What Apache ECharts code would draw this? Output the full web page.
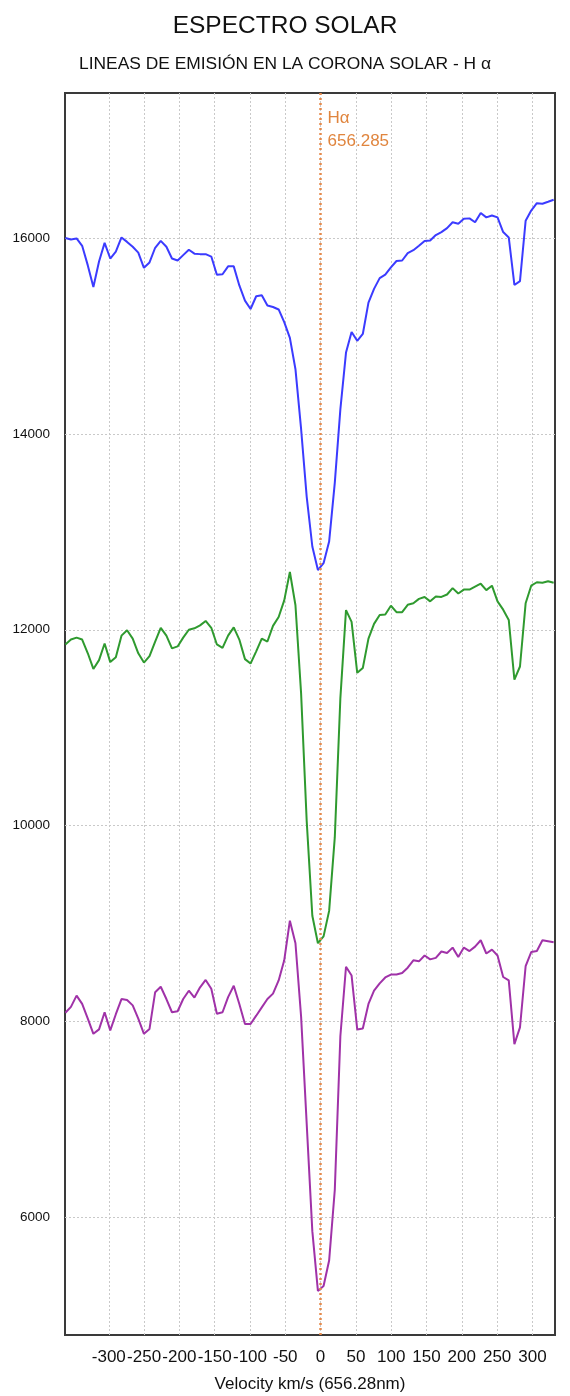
<!DOCTYPE html>
<html>
<head>
<meta charset="utf-8">
<script src="https://cdn.jsdelivr.net/npm/echarts@6/dist/echarts.min.js"></script>
<style>
  html, body { margin: 0; padding: 0; background: #ffffff; }
  #chart { width: 570px; height: 1396px; }
</style>
</head>
<body>
<div id="chart"></div>
<script>
// Doppler velocity of each sample, km/s relative to H-alpha (656.28 nm)
const velocity = [
  -361.5, -353.6, -345.6, -337.7, -329.7, -321.8, -313.8, -305.9, -297.9, -290.0,
  -282.0, -274.1, -266.1, -258.2, -250.2, -242.3, -234.3, -226.4, -218.4, -210.5,
  -202.5, -194.6, -186.6, -178.7, -170.7, -162.8, -154.8, -146.9, -138.9, -131.0,
  -123.0, -115.1, -107.1, -99.2, -91.2, -83.3, -75.3, -67.4, -59.4, -51.5,
  -43.5, -35.6, -27.6, -19.7, -11.7, -3.8, 4.2, 12.1, 20.1, 28.0,
  36.0, 43.9, 51.9, 59.8, 67.8, 75.7, 83.7, 91.6, 99.6, 107.5,
  115.5, 123.4, 131.4, 139.3, 147.3, 155.2, 163.2, 171.1, 179.1, 187.0,
  195.0, 202.9, 210.9, 218.8, 226.8, 234.7, 242.7, 250.6, 258.6, 266.5,
  274.5, 282.4, 290.4, 298.3, 306.3, 314.2, 322.2, 330.1
];

// Intensity profiles (counts), one per spectrum
const profileBlue = [
  16000, 15985, 15995, 15920, 15720, 15500, 15760, 15950, 15790, 15860,
  16005, 15960, 15910, 15850, 15695, 15750, 15900, 15970, 15910, 15790,
  15770, 15825, 15880, 15840, 15835, 15835, 15810, 15625, 15630, 15710,
  15710, 15515, 15360, 15275, 15405, 15415, 15310, 15295, 15270, 15140,
  14980, 14660, 14050, 13360, 12850, 12610, 12680, 12900, 13500, 14250,
  14830, 15040, 14950, 15020, 15340, 15480, 15590, 15625, 15700, 15765,
  15770, 15845, 15875, 15920, 15970, 15975, 16030, 16060, 16100, 16160,
  16145, 16195, 16200, 16160, 16255, 16210, 16230, 16210, 16060, 16005,
  15520, 15560, 16175, 16280, 16355, 16350, 16370, 16390
];

const profileGreen = [
  11850, 11900, 11920, 11900, 11760, 11600, 11690, 11860, 11670, 11720,
  11940, 11995, 11910, 11760, 11665, 11730, 11880, 12020, 11940, 11810,
  11830, 11920, 12000, 12015, 12045, 12090, 12020, 11850, 11815, 11940,
  12025, 11900, 11700, 11655, 11780, 11910, 11880, 12040, 12130, 12300,
  12590, 12250, 11350, 10050, 9080, 8800, 8870, 9130, 9880, 11300,
  12200, 12080, 11560, 11610, 11910, 12060, 12150, 12155, 12245, 12180,
  12180, 12255, 12270, 12315, 12335, 12290, 12340, 12335, 12360, 12425,
  12370, 12410, 12410, 12440, 12470, 12405, 12450, 12290, 12205, 12100,
  11490, 11625, 12270, 12450, 12485, 12480, 12495, 12480
];

const profilePurple = [
  8090, 8150, 8265, 8180, 8030, 7875, 7920, 8095, 7910, 8075,
  8230, 8220, 8165, 8030, 7875, 7925, 8300, 8355, 8230, 8095,
  8105, 8230, 8315, 8245, 8350, 8425, 8335, 8080, 8095, 8250,
  8365, 8180, 7975, 7975, 8060, 8145, 8230, 8285, 8420, 8625,
  9030, 8800, 8050, 6960, 5860, 5250, 5300, 5560, 6280, 7850,
  8560, 8470, 7920, 7930, 8180, 8315, 8390, 8450, 8480, 8480,
  8495, 8550, 8625, 8615, 8675, 8635, 8650, 8715, 8700, 8755,
  8660, 8755, 8720, 8765, 8830, 8695, 8735, 8675, 8455, 8420,
  7770, 7940, 8565, 8710, 8720, 8830, 8820, 8810
];

// Axis ticks
const velocityTicks = [-300, -250, -200, -150, -100, -50, 0, 50, 100, 150, 200, 250, 300];
const intensityTicks = [6000, 8000, 10000, 12000, 14000, 16000];

// Rest wavelength marker
const restVelocity = 0;
const restLabel = 'H\u03b1\n656.285';

const FONT = "'Liberation Sans', Arial, sans-serif";
const toPairs = values => velocity.map((v, i) => [v, values[i]]);

const chart = echarts.init(document.getElementById('chart'), null, { renderer: 'canvas' });

const gridLine = { show: true, lineStyle: { color: '#c9c9c9', width: 1, type: [2, 2] } };

function profileSeries(name, values, color) {
  return {
    name: name,
    type: 'line',
    data: toPairs(values),
    showSymbol: false,
    symbol: 'none',
    smooth: false,
    lineStyle: { color: color, width: 2 },
    itemStyle: { color: color },
    z: 3
  };
}

const series = [
  profileSeries('Espectro 1', profileBlue, '#3b3bff'),
  profileSeries('Espectro 2', profileGreen, '#2f9a2f'),
  profileSeries('Espectro 3', profilePurple, '#a032a8')
];

// H-alpha rest line, drawn over the profiles
series[2].markLine = {
  silent: true,
  symbol: 'none',
  animation: false,
  label: { show: false },
  lineStyle: { color: '#e68a4c', width: 2.5, type: [2, 3], opacity: 1 },
  data: [{ xAxis: restVelocity }]
};

chart.setOption({
  animation: false,
  backgroundColor: '#ffffff',
  title: [
    {
      text: 'ESPECTRO SOLAR',
      left: 'center',
      top: 9,
      textStyle: { fontFamily: FONT, fontSize: 24.5, fontWeight: 'normal', color: '#111111' }
    },
    {
      text: 'LINEAS DE EMISIÓN EN LA CORONA SOLAR - H α',
      left: 'center',
      top: 51,
      textStyle: { fontFamily: FONT, fontSize: 17.4, fontWeight: 'normal', color: '#111111' }
    }
  ],
  grid: {
    left: 65, right: 15, top: 93, bottom: 61,
    containLabel: false,
    outerBoundsMode: 'none',
    show: true, borderColor: '#3a3a3a', borderWidth: 2, backgroundColor: 'transparent'
  },
  xAxis: {
    type: 'value',
    min: -362,
    max: 332,
    name: 'Velocity km/s (656.28nm)',
    nameLocation: 'middle',
    nameGap: 41,
    nameTextStyle: { fontFamily: FONT, fontSize: 17, color: '#111111' },
    axisLine: { show: false },
    axisTick: { show: false, customValues: velocityTicks },
    axisLabel: { customValues: velocityTicks, margin: 14, fontFamily: FONT, fontSize: 17, color: '#111111' },
    splitLine: gridLine
  },
  yAxis: {
    type: 'value',
    min: 4800,
    max: 17480,
    axisLine: { show: false },
    axisTick: { show: false, customValues: intensityTicks },
    axisLabel: {
      customValues: intensityTicks, margin: 15, fontFamily: FONT, fontSize: 13.5, color: '#111111',
      formatter: value => String(value)
    },
    splitLine: gridLine
  },
  series: series
});

// Caption of the rest line, placed just right of it
const restX = chart.convertToPixel({ xAxisIndex: 0 }, restVelocity);
chart.setOption({
  graphic: [{
    type: 'text',
    left: restX + 7,
    top: 107,
    silent: true,
    style: { text: restLabel, fontFamily: FONT, fontSize: 17, lineHeight: 23, fill: '#e0853e' }
  }]
});
</script>
</body>
</html>
